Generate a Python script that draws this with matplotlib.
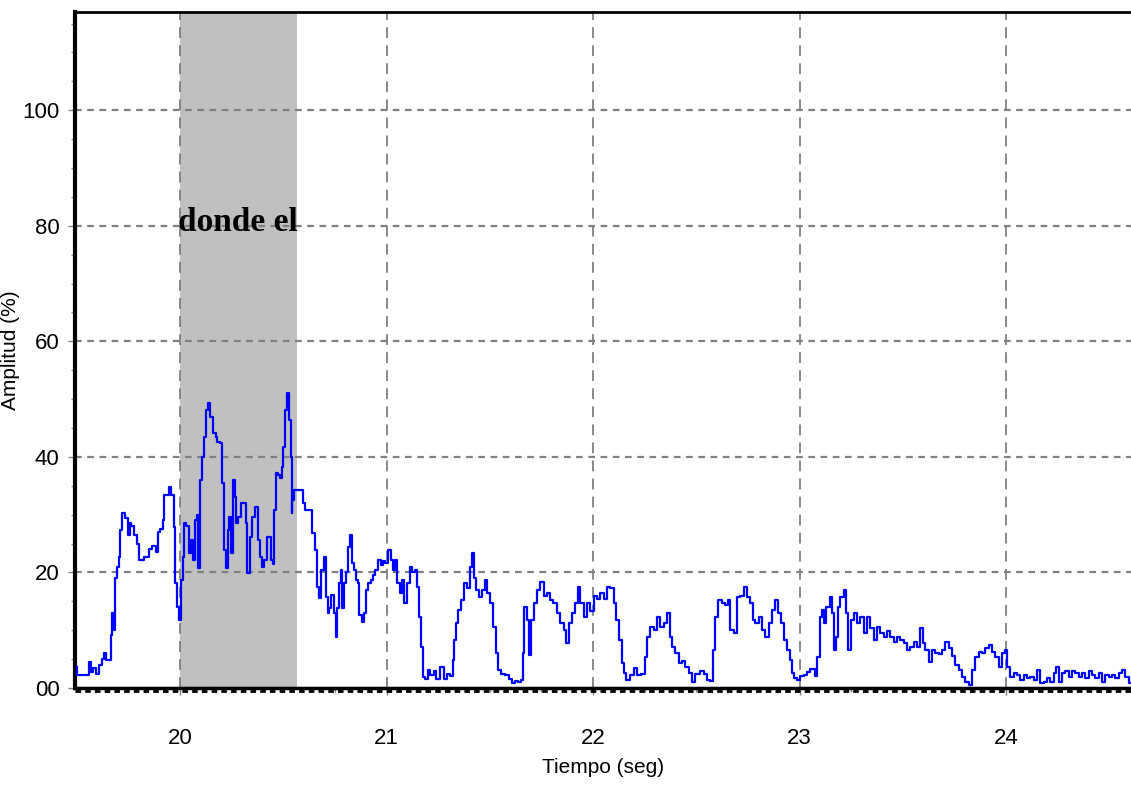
import matplotlib
matplotlib.use("Agg")
import matplotlib.pyplot as plt
from matplotlib.ticker import MultipleLocator, FixedLocator

plt.rcParams['font.family'] = ['Liberation Sans', 'DejaVu Sans']

# señal de amplitud (%) frente al tiempo (s)
tiempo = [
    19.501, 19.506, 19.554, 19.564, 19.574, 19.588, 19.603, 19.613, 19.627, 19.637,
    19.651, 19.661, 19.666, 19.671, 19.685, 19.690, 19.700, 19.709, 19.714, 19.729,
    19.734, 19.743, 19.753, 19.758, 19.772, 19.782, 19.797, 19.806, 19.821, 19.831,
    19.845, 19.855, 19.869, 19.879, 19.889, 19.893, 19.913, 19.918, 19.927, 19.937,
    19.952, 19.961, 19.966, 19.971, 19.981, 19.990, 20.000, 20.010, 20.015, 20.024,
    20.034, 20.039, 20.048, 20.058, 20.063, 20.073, 20.077, 20.087, 20.092, 20.102,
    20.111, 20.121, 20.131, 20.136, 20.155, 20.165, 20.179, 20.184, 20.199, 20.208,
    20.218, 20.228, 20.232, 20.242, 20.252, 20.262, 20.271, 20.276, 20.286, 20.300,
    20.315, 20.324, 20.329, 20.344, 20.354, 20.373, 20.378, 20.392, 20.402, 20.416,
    20.426, 20.436, 20.446, 20.450, 20.460, 20.470, 20.475, 20.489, 20.494, 20.504,
    20.513, 20.523, 20.533, 20.538, 20.542, 20.547, 20.557, 20.591, 20.600,
    20.615, 20.639, 20.644, 20.663, 20.668, 20.678, 20.688, 20.702, 20.712, 20.717,
    20.726, 20.741, 20.751, 20.760, 20.765, 20.775, 20.780, 20.789, 20.799, 20.809,
    20.818, 20.828, 20.838, 20.847, 20.857, 20.862, 20.872, 20.886, 20.896, 20.906,
    20.915, 20.930, 20.939, 20.954, 20.964, 20.978, 20.988, 21.002, 21.012, 21.027,
    21.036, 21.046, 21.056, 21.070, 21.080, 21.094, 21.104, 21.119, 21.128, 21.143,
    21.153, 21.162, 21.172, 21.177, 21.196, 21.201, 21.220, 21.235, 21.249, 21.269,
    21.283, 21.298, 21.317, 21.322, 21.332, 21.341, 21.356, 21.370, 21.380, 21.395,
    21.409, 21.419, 21.429, 21.438, 21.453, 21.467, 21.482, 21.492, 21.511, 21.521,
    21.535, 21.545, 21.564, 21.584, 21.598, 21.613, 21.632,
    21.642, 21.656, 21.661, 21.671, 21.685, 21.695, 21.705, 21.719, 21.734, 21.753,
    21.768, 21.782, 21.801, 21.816, 21.831, 21.850, 21.864, 21.879, 21.889, 21.903,
    21.923, 21.927, 21.947, 21.961, 21.976, 21.995, 22.010, 22.024, 22.044, 22.058,
    22.073, 22.092, 22.107, 22.116, 22.131, 22.145, 22.155, 22.169, 22.189, 22.203,
    22.218, 22.242, 22.257, 22.266, 22.286, 22.300, 22.315, 22.334, 22.349, 22.363,
    22.378, 22.387, 22.407, 22.421, 22.436, 22.455, 22.470, 22.484, 22.504, 22.528,
    22.542, 22.557, 22.576, 22.581, 22.600, 22.615, 22.630, 22.649, 22.654, 22.673,
    22.688, 22.702,
    22.722, 22.736, 22.751, 22.770, 22.775, 22.794, 22.809, 22.823, 22.843, 22.857,
    22.872, 22.891, 22.901, 22.915, 22.930, 22.944, 22.959, 22.969, 22.978, 22.993,
    23.012, 23.027, 23.041, 23.065, 23.080, 23.090, 23.104, 23.114, 23.123, 23.138,
    23.153, 23.162, 23.172, 23.182, 23.186, 23.206, 23.220, 23.230, 23.240, 23.254,
    23.269, 23.283, 23.303, 23.317, 23.332, 23.351, 23.366, 23.380, 23.400, 23.414,
    23.429, 23.448, 23.462, 23.477, 23.496, 23.511, 23.525, 23.545, 23.559, 23.574,
    23.593, 23.598, 23.617, 23.632, 23.646, 23.666, 23.680, 23.695, 23.714, 23.729,
    23.743, 23.763,
    23.777, 23.792, 23.811, 23.826, 23.840, 23.860, 23.874, 23.889, 23.908, 23.923,
    23.937, 23.956, 23.971, 23.985, 24.000, 24.010, 24.029, 24.044, 24.058, 24.077,
    24.092, 24.107, 24.126, 24.140, 24.155, 24.174, 24.189, 24.203, 24.223, 24.237,
    24.247, 24.262, 24.276, 24.295, 24.310, 24.324, 24.344, 24.358, 24.373, 24.392,
    24.407, 24.421, 24.441, 24.455, 24.470, 24.489, 24.504, 24.518, 24.538, 24.552,
    24.567, 24.586, 24.600,
]

amplitud = [
    3.6, 2.2, 2.2, 4.5, 2.8, 3.5, 2.5, 4.0, 5.0, 6.0,
    4.9, 4.9, 9.2, 13.0, 10.0, 19.0, 21.0, 22.7, 27.3, 30.3,
    29.5, 29.5, 26.4, 28.5, 28.0, 26.5, 25.0, 22.1, 22.1, 22.7,
    22.7, 24.0, 24.5, 24.5, 23.5, 27.0, 27.5, 29.0, 33.4, 33.4,
    34.8, 33.4, 33.4, 27.9, 18.2, 14.0, 11.8, 18.7, 22.7, 28.5,
    28.0, 28.0, 23.3, 25.6, 22.1, 22.1, 29.0, 30.0, 20.8, 36.0,
    40.0, 43.4, 48.1, 49.3, 46.9, 44.1, 43.5, 42.5, 42.4, 35.5,
    23.9, 20.8, 27.3, 29.6, 23.3, 36.0, 33.0, 28.5, 29.6, 32.0,
    32.0, 28.5, 19.9, 26.1, 29.6, 31.3, 25.6, 22.7, 21.0, 22.1,
    26.1, 26.1, 22.1, 21.5, 30.8, 37.2, 36.8, 36.3, 38.2, 41.7,
    48.1, 51.0, 46.4, 40.0, 30.3, 32.5, 34.3, 34.3, 32.0,
    30.8, 30.8, 26.8, 23.9, 17.5, 15.6, 20.4, 22.7, 15.7, 13.0,
    13.8, 16.1, 13.0, 8.8, 13.8, 18.2, 20.4, 13.8, 18.2, 20.0,
    24.4, 26.5, 21.6, 20.4, 18.7, 18.2, 12.6, 11.4, 13.0, 17.0,
    18.2, 18.7, 19.6, 20.4, 22.1, 21.3, 21.9, 21.6, 23.9, 22.1,
    20.4, 22.1, 18.2, 16.4, 18.7, 14.7, 18.2, 21.0, 20.0, 20.4,
    17.5, 12.3, 7.1, 1.9, 1.6, 3.1, 2.2, 2.9, 1.5, 3.6,
    1.5, 2.5, 2.0, 4.8, 8.3, 11.2, 13.5, 15.2, 18.2, 17.3,
    21.0, 23.3, 19.0, 17.0, 15.7, 17.0, 18.7, 16.4, 14.7, 10.6,
    6.0, 3.1, 2.5, 2.2, 1.5, 0.9, 1.2,
    1.0, 1.4, 6.0, 14.0, 11.8, 5.7, 11.8, 14.7, 17.0, 18.3,
    15.9, 16.4, 15.2, 14.7, 13.0, 11.2, 10.0, 7.8, 11.2, 13.0,
    14.7, 17.5, 14.7, 12.3, 14.7, 13.4, 15.9, 15.4, 16.4, 15.4,
    17.5, 17.3, 14.7, 11.8, 8.3, 4.3, 2.6, 1.4, 2.2, 3.5,
    2.2, 2.5, 5.4, 8.8, 10.6, 10.0, 12.3, 10.6, 11.2, 13.0,
    8.8, 7.1, 6.0, 4.3, 4.6, 3.6, 2.6, 1.0, 2.5, 2.9,
    2.5, 1.4, 1.2, 6.6, 12.3, 15.2, 14.7, 14.4, 15.2, 10.0,
    9.5, 15.7,
    16.0, 17.5, 15.7, 14.7, 11.8, 11.2, 12.3, 10.0, 8.8, 11.2,
    13.5, 15.2, 12.9, 11.2, 8.3, 6.6, 4.8, 2.6, 1.7, 1.4,
    2.0, 2.2, 2.8, 3.3, 2.0, 5.4, 12.3, 13.5, 11.2, 14.0,
    15.7, 13.0, 6.6, 8.8, 14.0, 15.7, 17.0, 13.0, 6.6, 11.8,
    12.9, 11.2, 12.3, 9.5, 12.3, 10.3, 8.3, 10.6, 9.5, 8.8,
    9.8, 8.8, 7.9, 8.8, 8.3, 7.8, 6.6, 7.1, 7.9, 7.1,
    10.3, 7.8, 6.6, 4.5, 6.6, 6.0, 5.8, 6.6, 7.9, 7.0,
    5.5, 4.0,
    3.1, 1.9, 1.0, 0.5, 3.1, 5.4, 6.2, 6.0, 6.9, 7.4,
    6.2, 5.4, 3.7, 6.0, 6.5, 3.7, 1.9, 2.6, 2.3, 1.4,
    2.3, 1.7, 1.9, 1.4, 3.1, 0.8, 1.0, 1.7, 1.0, 2.6,
    3.7, 1.0, 2.6, 2.9, 1.9, 2.9, 2.6, 1.9, 2.6, 1.7,
    2.9, 2.3, 1.7, 2.6, 1.0, 2.3, 1.9, 2.3, 1.7, 2.6,
    3.1, 1.9, 0.8,
]

# intervalo sombreado y su etiqueta
zona_inicio = 20.0
zona_fin = 20.565
zona_texto = "donde el"

x_ticks = [20, 21, 22, 23, 24]
y_ticks = [0, 20, 40, 60, 80, 100]
y_labels = ["00", "20", "40", "60", "80", "100"]

W, H = 1131, 786
fig = plt.figure(figsize=(W / 100, H / 100), dpi=100)
ax = fig.add_axes([75 / W, 1 - 688 / H, 1 - 75 / W, (688 - 12) / H])

ax.axvspan(zona_inicio, zona_fin, color="#c0c0c0", lw=0, zorder=0)
ax.plot(tiempo, amplitud, color="#0000ff", lw=1.6, drawstyle="steps-mid", zorder=3)

ax.set_xlim(19.4915, 24.605)
ax.set_ylim(0, 117)

ax.xaxis.set_major_locator(FixedLocator(x_ticks))
ax.xaxis.set_minor_locator(MultipleLocator(0.25))
ax.set_yticks(y_ticks)
ax.set_yticklabels(y_labels)
ax.yaxis.set_minor_locator(MultipleLocator(5))

ax.yaxis.grid(True, color="#808080", lw=1.6, linestyle=(0, (3, 2.5)))
ax.xaxis.grid(True, color="#808080", lw=1.3, linestyle=(0, (6, 4)))

ax.tick_params(which="major", direction="out", length=5, width=1, color="#808080",
               labelsize=16, pad=6)
ax.tick_params(axis="x", which="major", pad=24)
ax.tick_params(which="minor", direction="out", length=3, width=1, color="#808080")

for side in ["left", "top", "bottom"]:
    ax.spines[side].set_color("black")
ax.spines["left"].set_linewidth(3)
ax.spines["top"].set_linewidth(2)
ax.spines["bottom"].set_linewidth(2.5)
ax.spines["right"].set_visible(False)
# línea base punteada bajo el eje
ax.axhline(-0.45, color="black", lw=2, linestyle=(0, (2, 1.5)), clip_on=False, zorder=4)

ax.text((zona_inicio + zona_fin) / 2, 80.6, zona_texto, ha="center", va="center",
        fontsize=24, fontweight="bold", family=["Liberation Serif", "DejaVu Serif"], zorder=5)

ax.set_xlabel("Tiempo (seg)", fontsize=15)
ax.xaxis.set_label_coords(0.5, -0.104)
ax.set_ylabel("Amplitud (%)", fontsize=15)
ax.yaxis.set_label_coords(-0.052, 0.5)

fig.savefig("out.png", dpi=100)
